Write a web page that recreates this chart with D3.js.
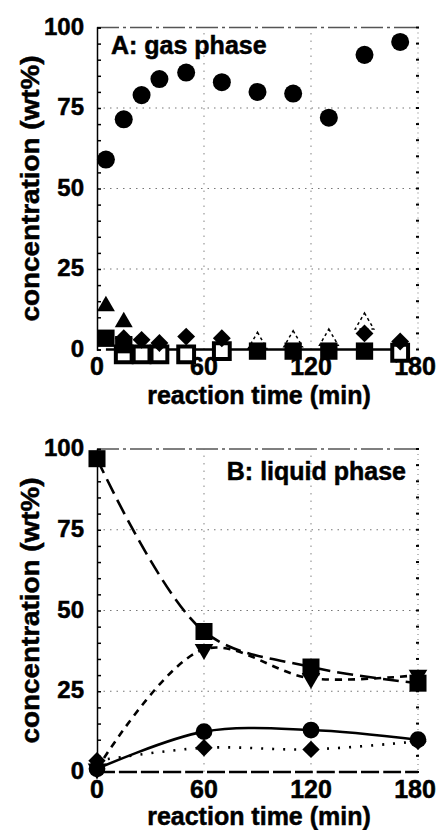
<!DOCTYPE html>
<html>
<head>
<meta charset="utf-8">
<script src="https://cdn.jsdelivr.net/npm/d3@7"></script>
<style>
body { margin: 0; background: #fff; }
svg text { font-family: "Liberation Sans", Arial, sans-serif; font-weight: bold; fill: #000; stroke: #000; stroke-width: 0.5px; }
</style>
</head>
<body>
<svg id="chart" width="442" height="830"></svg>
<script>
// panel A: gas phase
var gasTime = [5, 15, 25, 35, 50, 70, 90, 110, 130, 150, 170];
var gasCircle = [59, 71.5, 79, 84, 86, 83, 80, 79.5, 72, 91.5, 95.5];
var gasTri = [13.5, 8.5, null, null, null, null, null, null, null, null, null];
var gasOpenSquare = [null, -1.5, -1.5, -1.5, -1.5, -0.5, null, null, null, null, -1];
var gasSquare = [3.5, 1.5, null, null, null, null, -0.5, -0.5, -0.5, -0.5, null];
var gasDiamond = [null, 3.5, 3, 2, 4, 3.5, null, null, null, 5, 2.5];
var gasOpenTri = [null, null, null, null, null, null, 2, 2.5, 3, 8, null];

// panel B: liquid phase
var liqTime = [0, 60, 120, 180];
var liqSquare = [97, 43.5, 32.5, 27.5];
var liqTriDown = [1, 38, 29, 30];
var liqCircle = [1, 12.5, 13, 10];
var liqDiamond = [3.5, 7.5, 7, 9.5];
var liqZero = [0, 0, 0, 0];

var xTicks = [0, 60, 120, 180];
var yTicks = [0, 25, 50, 75, 100];

var svg = d3.select("#chart");

function toPts(time, vals) {
  return time.map(function(t, i) { return {t: t, v: vals[i]}; })
    .filter(function(d) { return d.v != null; });
}

function drawPanel(p) {
  var x = d3.scaleLinear().domain([0, 180]).range([97, 418]);
  var y = d3.scaleLinear().domain([0, 100]).range([p.bottom, p.top]);
  var g = svg.append("g");

  // grid
  g.selectAll(".hg").data([25, 50, 75]).enter().append("line")
    .attr("x1", x(0)).attr("x2", x(180))
    .attr("y1", y).attr("y2", y)
    .attr("stroke", "#777").attr("stroke-width", 1.2)
    .attr("stroke-dasharray", "1.5,5");
  g.selectAll(".vg").data([60, 120]).enter().append("line")
    .attr("x1", x).attr("x2", x)
    .attr("y1", y(0)).attr("y2", y(100))
    .attr("stroke", "#999").attr("stroke-width", 1.2)
    .attr("stroke-dasharray", "1.5,6");

  // frame: top dashed grey, right dotted
  g.append("line").attr("x1", x(0)).attr("x2", x(180))
    .attr("y1", y(100)).attr("y2", y(100))
    .attr("stroke", "#555").attr("stroke-width", 1.5)
    .attr("stroke-dasharray", "22,4,3,4");
  g.append("line").attr("x1", x(180)).attr("x2", x(180))
    .attr("y1", y(100)).attr("y2", y(0))
    .attr("stroke", "#777").attr("stroke-width", 1)
    .attr("stroke-dasharray", "1,4");

  var minor = d3.range(0, 101, 5);
  g.selectAll(".rt").data(minor).enter().append("line")
    .attr("x1", x(180) - 2).attr("x2", x(180) + 1)
    .attr("y1", y).attr("y2", y)
    .attr("stroke", "#000").attr("stroke-width", 2);

  // left axis
  g.append("g")
    .attr("transform", "translate(" + x(0) + ",0)")
    .call(d3.axisRight(y).tickValues(minor).tickSize(4).tickFormat(""))
    .call(function(a) {
      a.select(".domain").attr("stroke", "#000").attr("stroke-width", 1.5);
      a.selectAll(".tick line").attr("stroke-width", 1.5);
    });

  g.selectAll(".yl").data(yTicks).enter().append("text")
    .attr("x", 84).attr("y", y)
    .attr("dy", "0.3em")
    .attr("text-anchor", "end")
    .attr("font-size", 24)
    .text(function(d) { return d; });

  g.selectAll(".xl").data(xTicks).enter().append("text")
    .attr("x", function(d) { return x(d) - (d === 180 ? 3 : 0); })
    .attr("y", p.bottom + p.tickDy)
    .attr("text-anchor", "middle")
    .attr("font-size", 25)
    .text(function(d) { return d; });

  g.append("text")
    .attr("x", 259).attr("y", p.bottom + p.titleDy)
    .attr("text-anchor", "middle")
    .attr("font-size", 25)
    .text("reaction time (min)");

  g.append("text")
    .attr("transform", "translate(39," + (p.top + p.bottom) / 2 + ") rotate(-90)")
    .attr("text-anchor", "middle")
    .attr("font-size", 25)
    .attr("textLength", 266)
    .attr("lengthAdjust", "spacingAndGlyphs")
    .text("concentration (wt%)");

  g.append("text")
    .attr("x", p.labelX).attr("y", y(p.labelY))
    .attr("dy", "0.35em")
    .attr("text-anchor", p.labelAnchor)
    .attr("font-size", 25)
    .text(p.label);

  var line = d3.line()
    .x(function(d) { return x(d.t); })
    .y(function(d) { return y(d.v); })
    .curve(d3.curveCatmullRom.alpha(0.5));

  p.series.forEach(function(s) {
    var pts = toPts(s.time, s.values);
    if (s.dash !== undefined) {
      g.append("path").datum(pts)
        .attr("d", line)
        .attr("fill", "none")
        .attr("stroke", "#000")
        .attr("stroke-width", 2.6)
        .attr("stroke-dasharray", s.dash);
    }
  });

  p.series.forEach(function(s) {
    var pts = toPts(s.time, s.values);
    if (!s.symbol) return;
    g.selectAll(null).data(pts).enter().append("path")
      .attr("d", d3.symbol().type(s.symbol).size(s.size))
      .attr("transform", function(d) {
        return "translate(" + x(d.t) + "," + y(d.v) + ") rotate(" + (s.rotate || 0) + ")";
      })
      .attr("fill", s.fill)
      .attr("stroke", s.stroke || "none")
      .attr("stroke-width", s.strokeWidth || 0)
      .attr("stroke-dasharray", s.strokeDash || null);
  });
}

drawPanel({
  top: 27.5, bottom: 349.5, tickDy: 25, titleDy: 54,
  label: "A: gas phase", labelX: 111, labelY: 94.5, labelAnchor: "start",
  series: [
    {time: gasTime, values: gasCircle.map(function() { return 0; }), dash: ""},
    {time: gasTime, values: gasOpenSquare, symbol: d3.symbolSquare, size: 250, fill: "#fff", stroke: "#000", strokeWidth: 4},
    {time: gasTime, values: gasSquare, symbol: d3.symbolSquare, size: 300, fill: "#000"},
    {time: gasTime, values: gasOpenTri, symbol: d3.symbolTriangle, size: 150, fill: "none", stroke: "#000", strokeWidth: 1.5, strokeDash: "3,3"},
    {time: gasTime, values: gasDiamond, symbol: d3.symbolSquare, size: 160, rotate: 45, fill: "#000"},
    {time: gasTime, values: gasTri, symbol: d3.symbolTriangle, size: 140, fill: "#000"},
    {time: gasTime, values: gasCircle, symbol: d3.symbolCircle, size: 255, fill: "#000"}
  ]
});

drawPanel({
  top: 449, bottom: 772, tickDy: 26, titleDy: 52.5,
  label: "B: liquid phase", labelX: 406, labelY: 93, labelAnchor: "end",
  series: [
    {time: liqTime, values: liqZero, dash: "18,4"},
    {time: liqTime, values: liqSquare, dash: "16,7", symbol: d3.symbolSquare, size: 290, fill: "#000"},
    {time: liqTime, values: liqTriDown, dash: "7,6", symbol: d3.symbolTriangle, size: 150, rotate: 180, fill: "#000"},
    {time: liqTime, values: liqDiamond, dash: "2,9", symbol: d3.symbolSquare, size: 150, rotate: 45, fill: "#000"},
    {time: liqTime, values: liqCircle, dash: "", symbol: d3.symbolCircle, size: 220, fill: "#000"}
  ]
});
</script>
</body>
</html>
